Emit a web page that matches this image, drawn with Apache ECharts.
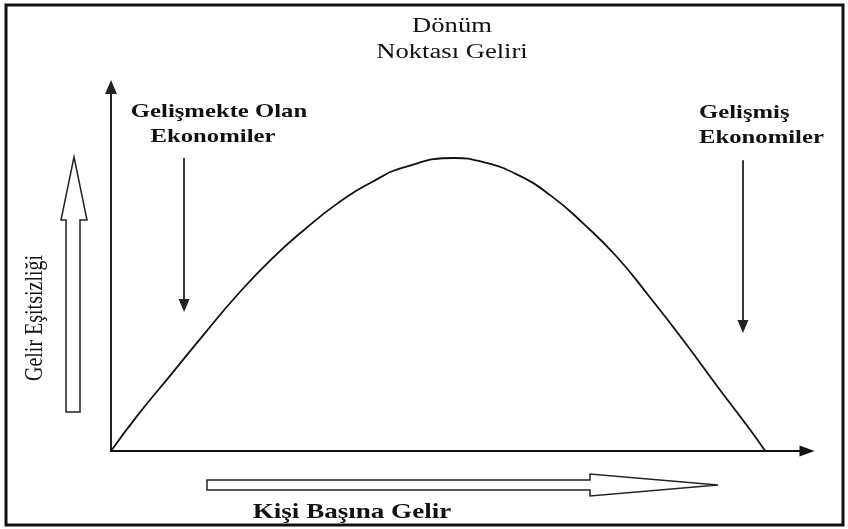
<!DOCTYPE html>
<html>
<head>
<meta charset="utf-8">
<script src="https://cdn.jsdelivr.net/npm/echarts@6/dist/echarts.min.js"></script>
<style>
  html, body { margin: 0; padding: 0; background: #fff; }
  #kuznets { width: 848px; height: 529px; }
</style>
</head>
<body>
<div id="kuznets"></div>
<script>
// Kuznets eğrisi (eksen 0-100 birim)
var gelirX = [0, 3.9, 8.8, 13.5, 18.2, 23.1, 27.9, 32.6, 37.5, 42.2, 49.4,
              53.4, 58.3, 63.1, 67.8, 72.7, 77.4, 82.2, 87.1, 91.8, 94.0];
var esitsizlikY = [0, 10.0, 21.4, 32.4, 43.0, 52.8, 61.0, 68.1, 73.9, 78.0, 80.5,
                   79.4, 76.0, 70.3, 62.6, 53.3, 42.3, 30.5, 17.8, 5.9, 0];

// aşağı oklar: [x, başlangıç y, bitiş y]
var okVerileri = [
    [10.5, 80.5, 40.0],
    [48.9, 101.4, 87.8],
    [90.8, 79.9, 34.2]
];

var serif = '"Liberation Serif", "DejaVu Serif", serif';

var dom = document.getElementById('kuznets');
var myChart = echarts.init(dom, null, { renderer: 'canvas' });

var egri = gelirX.map(function (x, i) { return [x, esitsizlikY[i]]; });

var okCizgileri = okVerileri.map(function (o) {
    return [{ coord: [o[0], o[1]] }, { coord: [o[0], o[2]] }];
});

// yazı yardımcı fonksiyonu
function yazi(text, x, y, opts) {
    opts = opts || {};
    return {
        type: 'text',
        x: x,
        y: y,
        scaleX: opts.scaleX || 1.3,
        scaleY: opts.scaleY || 1,
        rotation: opts.rotation || 0,
        silent: true,
        style: {
            text: text,
            font: (opts.bold ? 'bold ' : '') + (opts.size || 20) + 'px ' + serif,
            fill: '#111',
            textAlign: opts.align || 'center',
            textVerticalAlign: 'middle'
        }
    };
}

var option = {
    animation: false,
    backgroundColor: '#fff',
    grid: {
        left: 111,
        right: 41,
        top: 87,
        bottom: 78
    },
    xAxis: {
        type: 'value',
        min: 0,
        max: 100,
        axisLine: {
            show: true,
            symbol: ['none', 'triangle'],
            symbolSize: [11, 15],
            lineStyle: { color: '#111', width: 2 }
        },
        axisTick: { show: false },
        axisLabel: { show: false },
        splitLine: { show: false }
    },
    yAxis: {
        type: 'value',
        min: 0,
        max: 100,
        axisLine: {
            show: true,
            symbol: ['none', 'triangle'],
            symbolSize: [12, 14],
            lineStyle: { color: '#222', width: 2 }
        },
        axisTick: { show: false },
        axisLabel: { show: false },
        splitLine: { show: false }
    },
    series: [
        {
            type: 'line',
            data: egri,
            smooth: true,
            showSymbol: false,
            clip: false,
            silent: true,
            lineStyle: { color: '#111', width: 1.8 },
            markLine: {
                silent: true,
                symbol: ['none', 'triangle'],
                symbolSize: [11, 13],
                label: { show: false },
                lineStyle: { color: '#222', width: 1.8, type: 'solid' },
                data: okCizgileri
            }
        }
    ],
    graphic: [
        // çerçeve
        {
            type: 'rect',
            shape: { x: 6, y: 5, width: 837, height: 520 },
            style: { fill: 'none', stroke: '#111', lineWidth: 3 },
            silent: true
        },
        // boş yukarı ok
        {
            type: 'polygon',
            shape: { points: [[66, 412], [80, 412], [80, 220], [87, 220], [74, 157], [61, 220], [66, 220]] },
            style: { fill: '#fff', stroke: '#222', lineWidth: 1.5 },
            silent: true
        },
        // boş sağa ok
        {
            type: 'polygon',
            shape: { points: [[207, 480], [590, 480], [590, 474], [718, 485], [590, 496], [590, 490], [207, 490]] },
            style: { fill: '#fff', stroke: '#222', lineWidth: 1.5 },
            silent: true
        },
        yazi('Dönüm', 452, 27, { scaleX: 1.33 }),
        yazi('Noktası Geliri', 452, 53, { scaleX: 1.33 }),
        yazi('Gelişmekte Olan', 219, 112, { bold: true, size: 19 }),
        yazi('Ekonomiler', 213, 137, { bold: true, size: 19 }),
        yazi('Gelişmiş', 699, 113, { bold: true, size: 19, align: 'left' }),
        yazi('Ekonomiler', 699, 138, { bold: true, size: 19, align: 'left' }),
        yazi('Kişi Başına Gelir', 352, 512, { bold: true, size: 22, scaleX: 1.23 }),
        yazi('Gelir Eşitsizliği', 35, 318, { size: 20, scaleX: 1, scaleY: 1.3, rotation: Math.PI / 2 })
    ]
};

if (option && typeof option === 'object') {
    myChart.setOption(option);
}

window.addEventListener('resize', myChart.resize);
</script>
</body>
</html>
